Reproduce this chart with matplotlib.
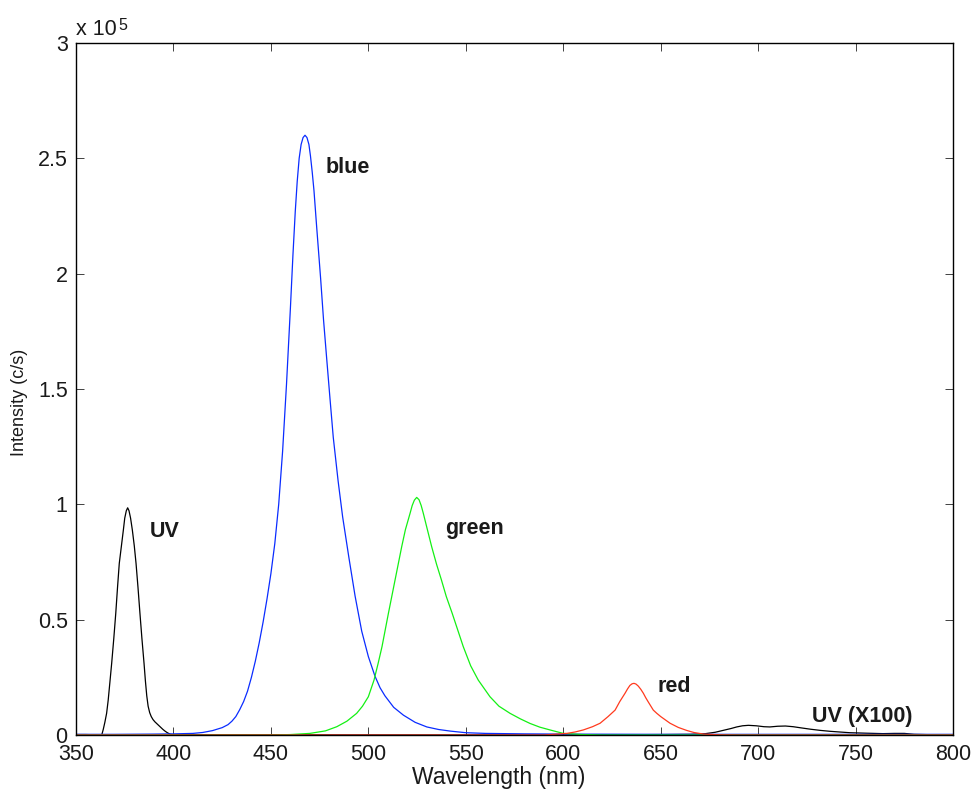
import matplotlib
matplotlib.use("Agg")
import matplotlib.pyplot as plt
from matplotlib.ticker import FuncFormatter

plt.rcParams['font.family'] = ['Liberation Sans', 'DejaVu Sans']

# Emission spectra, intensity in units of 1e5 counts/s
uv_wl = [350, 355, 360, 362, 363.2, 364.0, 364.8, 365.7, 366.5, 367.4, 368.3, 369.4,
         370.4, 371.3, 372.2, 373.3, 374.3, 375.0, 375.8, 376.5, 377.2, 378.0, 378.9,
         379.9, 380.8, 381.8, 382.8, 383.8, 384.9, 385.6, 386.3, 387.0, 387.8, 388.6,
         389.5, 390.5, 391.5, 392.5, 393.5, 394.5, 395.5, 396.5, 397.5, 398.5, 400, 600]
uv_int = [0.002, 0.002, 0.001, 0.0, 0.0, 0.025, 0.055, 0.094, 0.15, 0.23, 0.311, 0.42,
          0.528, 0.64, 0.744, 0.82, 0.889, 0.94, 0.972, 0.985, 0.972, 0.94, 0.889,
          0.82, 0.744, 0.64, 0.528, 0.42, 0.311, 0.235, 0.17, 0.125, 0.097, 0.080,
          0.067, 0.057, 0.049, 0.041, 0.033, 0.025, 0.018, 0.012, 0.007, 0.003, 0.001, 0.0]

uvx100_wl = [600, 650, 665, 673, 678, 682, 686, 689, 692, 695, 699, 703, 706, 710, 714,
             718, 722, 727, 732, 737, 742, 747, 755, 764, 770, 775, 780, 790, 800]
uvx100_int = [0.0, 0.002, 0.003, 0.006, 0.012, 0.020, 0.028, 0.035, 0.040, 0.042, 0.040,
              0.036, 0.035, 0.038, 0.039, 0.036, 0.031, 0.025, 0.020, 0.016, 0.013, 0.010,
              0.008, 0.006, 0.007, 0.007, 0.003, 0.001, 0.0]

blue_wl = [350, 370, 390, 400, 410, 415, 420, 425, 428, 430, 432, 434, 436, 438, 440,
           442, 444, 446, 448, 450, 452, 454, 456, 458, 460, 461.3, 462.5, 463.5, 464.5,
           465.5, 466.5, 467.5, 468.5, 469.5, 470.3, 471.2, 472.1, 473.5, 475.5, 477,
           478.6, 480.3, 482.0, 484.5, 486.8, 490, 493.2, 496.6, 500, 503.4, 506, 508.5,
           513, 518, 524, 530, 536, 542, 550, 560, 580, 600, 650, 800]
blue_int = [0.003, 0.003, 0.004, 0.005, 0.007, 0.011, 0.019, 0.032, 0.045, 0.06, 0.08,
            0.11, 0.145, 0.19, 0.25, 0.32, 0.40, 0.49, 0.59, 0.70, 0.83, 1.0, 1.23, 1.52,
            1.85, 2.08, 2.27, 2.40, 2.50, 2.56, 2.59, 2.60, 2.59, 2.56, 2.51, 2.44, 2.36,
            2.2, 1.98, 1.8, 1.634, 1.46, 1.29, 1.10, 0.946, 0.77, 0.602, 0.45, 0.34, 0.255,
            0.205, 0.170, 0.12, 0.086, 0.055, 0.035, 0.024, 0.017, 0.010, 0.007, 0.005,
            0.004, 0.003, 0.003]

green_wl = [350, 450, 460, 470, 478, 483.8, 489, 494, 497, 500, 502.9, 505, 507, 510.3,
            513.7, 517.1, 519, 521.4, 522.5, 523.6, 524.8, 526.0, 527.1, 528.2, 530,
            532.5, 535, 537.5, 540, 543, 548.7, 552.5, 556.4, 562.4, 567, 572.7, 578, 583,
            588, 593.2, 600, 610, 620, 800]
green_int = [0.0, 0.0, 0.002, 0.007, 0.018, 0.036, 0.06, 0.094, 0.125, 0.166, 0.238, 0.31,
             0.383, 0.528, 0.672, 0.816, 0.89, 0.961, 0.995, 1.018, 1.03, 1.02, 0.995, 0.961,
             0.90, 0.816, 0.74, 0.672, 0.60, 0.528, 0.383, 0.30, 0.238, 0.166, 0.125, 0.094,
             0.07, 0.050, 0.034, 0.022, 0.007, 0.002, 0.0, 0.0]

red_wl = [350, 590, 601.8, 606, 610.3, 615, 618.9, 623, 626.6, 629, 630.5, 631.7, 633,
          634.2, 635.3, 636.3, 637.3, 638.5, 639.8, 641.1, 642.3, 643.5, 646.2, 648, 650,
          654.8, 659, 663.3, 667, 672, 680, 690, 800]
red_int = [0.0, 0.0, 0.007, 0.013, 0.022, 0.036, 0.051, 0.08, 0.108, 0.145, 0.165, 0.181,
           0.200, 0.215, 0.222, 0.224, 0.221, 0.212, 0.198, 0.181, 0.162, 0.145, 0.108,
           0.094, 0.08, 0.051, 0.033, 0.020, 0.011, 0.004, 0.001, 0.0, 0.0]

x_ticks = [350, 400, 450, 500, 550, 600, 650, 700, 750, 800]
y_ticks = [0, 0.5, 1, 1.5, 2, 2.5, 3]

labels = [("blue", 478.3, 2.435), ("UV", 387.6, 0.860), ("green", 539.3, 0.871),
          ("red", 648.3, 0.185), ("UV (X100)", 727.5, 0.058)]

fig = plt.figure(figsize=(9.72, 7.90), dpi=100)
ax = fig.add_axes([0.0782, 0.0696, 0.9805 - 0.0782, 0.9456 - 0.0696])

lw = 0.9
ax.plot(uv_wl, uv_int, color='black', lw=lw)
ax.plot(uvx100_wl, uvx100_int, color='black', lw=lw)
ax.plot(blue_wl, blue_int, color='#0a2cff', lw=lw)
ax.plot(green_wl, green_int, color='#14f014', lw=lw)
ax.plot(red_wl, red_int, color='#ff3a1e', lw=lw)

for txt, x, y in labels:
    ax.text(x, y, txt, fontsize=15.5, fontweight='bold', color='#1a1a1a',
            ha='left', va='baseline')

ax.set_xlim(350, 800)
ax.set_ylim(0, 3)
ax.set_xticks(x_ticks)
ax.set_yticks(y_ticks)
ax.yaxis.set_major_formatter(FuncFormatter(lambda v, p: '%g' % v))
ax.tick_params(direction='in', length=5.5, width=0.6, labelsize=15.5,
               top=True, right=True, colors='#222222', labelcolor='#1a1a1a')
ax.tick_params(axis='x', pad=6.5)
ax.tick_params(axis='y', pad=6)
for sp in ax.spines.values():
    sp.set_linewidth(1.0)
    sp.set_color('black')

ax.set_xlabel('Wavelength (nm)', fontsize=16.5, color='#1a1a1a')
ax.xaxis.set_label_coords(0.482, -0.045, transform=ax.transAxes)
ax.xaxis.label.set_va('top')
ax.set_ylabel('Intensity (c/s)', fontsize=13, color='#1a1a1a')
ax.yaxis.set_label_coords(-0.0545, 0.48)

# scale factor for the intensity axis
ax.text(0.0, 1.0116, 'x 10', transform=ax.transAxes, fontsize=15.5, color='#1a1a1a',
        ha='left', va='baseline')
ax.text(0.0479, 1.0188, '5', transform=ax.transAxes, fontsize=11.5, color='#1a1a1a',
        ha='left', va='baseline')

fig.savefig('out.png', dpi=100)
